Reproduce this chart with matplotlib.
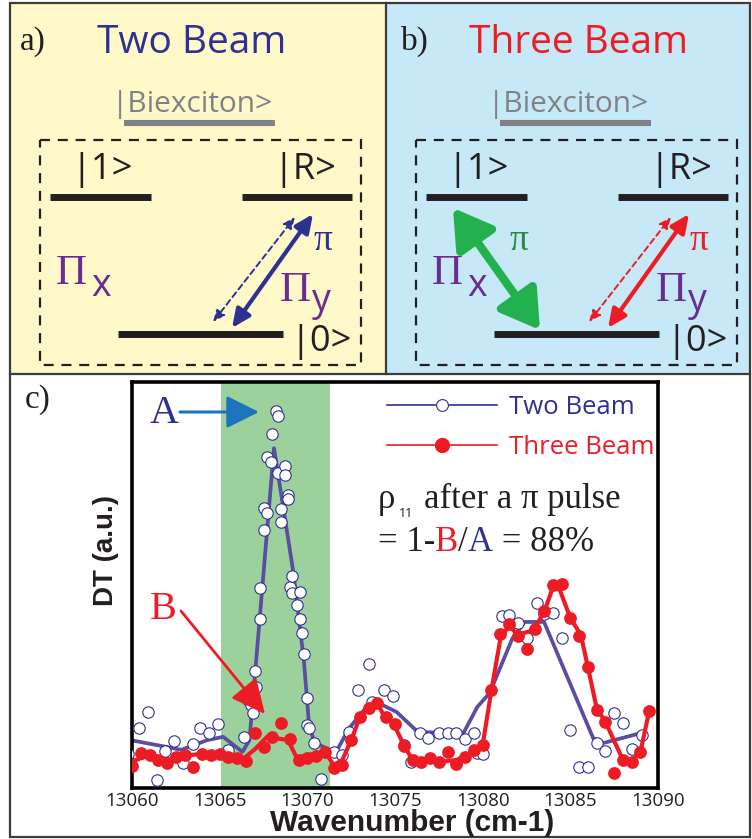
import matplotlib
matplotlib.use("Agg")
import matplotlib.pyplot as plt
from matplotlib.patches import Rectangle, FancyArrowPatch
from matplotlib.lines import Line2D

# ---------------- data ----------------
two_x = [13059.8, 13060.4, 13060.9, 13061.4, 13061.9, 13062.4, 13062.9, 13063.5, 13063.9, 13064.4,
         13064.9, 13065.5, 13066.4, 13066.6, 13066.8, 13066.9, 13067.0, 13067.1, 13067.3, 13067.3,
         13067.5, 13067.5, 13067.7, 13067.7, 13067.9, 13068.0, 13068.2, 13068.3, 13068.3, 13068.5,
         13068.5, 13068.7, 13068.7, 13068.9, 13068.9, 13069.0, 13069.1, 13069.1, 13069.6, 13069.4,
         13069.6, 13069.7, 13069.8, 13070.0, 13070.0, 13070.1, 13070.4, 13070.8, 13071.5, 13072.0,
         13072.4, 13072.9, 13073.5, 13073.7, 13074.4, 13074.9, 13075.5, 13075.9, 13076.4, 13076.9,
         13077.5, 13078.0, 13078.5, 13079.0, 13079.5, 13079.7, 13080.0, 13081.1, 13081.5, 13082.0,
         13082.5, 13083.1, 13083.5, 13084.0, 13084.5, 13085.0, 13085.5, 13086.0, 13086.5, 13087.0,
         13087.5, 13088.0, 13088.5, 13089.1]
two_y = [8.4, 14.8, 18.7, 2.0, 9.1, 11.6, 6.2, 10.8, 14.8, 13.5,
         15.8, 9.4, 12.6, 21.7, 20.4, 18.5, 28.8, 24.9, 41.6, 49.3,
         63.5, 69.0, 67.7, 81.5, 80.3, 87.2, 92.9, 91.6, 77.6, 68.7,
         65.5, 79.3, 77.1, 72.2, 71.2, 49.5, 52.2, 48.0, 48.3, 45.1,
         41.6, 38.2, 33.0, 22.2, 15.5, 14.8, 11.1, 2.2, 8.9, 8.1,
         13.8, 24.1, 30.5, 21.2, 24.1, 22.7, 10.6, 6.4, 13.5, 12.3,
         13.5, 13.5, 13.5, 12.1, 13.5, 8.6, 8.4, 42.4, 42.6, 40.6,
         36.9, 45.6, 42.9, 43.1, 36.9, 14.3, 5.2, 5.2, 11.1, 9.1,
         18.5, 16.0, 9.6, 13.1]

two_fit_x = [13059.9, 13062.0, 13062.8, 13064.3, 13065.2, 13066.3, 13066.7, 13068.1, 13069.2, 13069.8,
             13070.1, 13070.4, 13071.6, 13072.4, 13073.7, 13075.1, 13076.3, 13078.9, 13079.7, 13080.4,
             13081.7, 13082.4, 13083.5, 13086.3, 13086.9, 13089.0]
two_fit_y = [11.8, 10.1, 9.4, 11.8, 12.6, 8.9, 11.8, 83.7, 53.2, 31.5,
             15.5, 11.3, 8.6, 14.8, 21.7, 18.7, 13.8, 13.5, 20.0, 23.4,
             36.9, 40.9, 40.9, 12.3, 11.1, 13.5]

three_x = [13060.0, 13060.5, 13061.0, 13061.5, 13062.0, 13062.5, 13063.0, 13063.5, 13064.0, 13064.5,
           13065.0, 13065.5, 13066.0, 13066.5, 13067.0, 13067.5, 13068.0, 13068.5, 13069.0, 13069.5,
           13070.0, 13070.5, 13071.0, 13071.5, 13072.0, 13072.5, 13073.0, 13073.5, 13074.0, 13074.5,
           13075.0, 13075.5, 13076.0, 13076.5, 13077.0, 13077.5, 13078.0, 13078.5, 13079.0, 13079.5,
           13080.0, 13080.5, 13081.0, 13081.5, 13082.0, 13082.5, 13083.0, 13083.5, 13084.0, 13084.5,
           13085.0, 13085.5, 13086.0, 13086.5, 13087.0, 13087.5, 13088.0, 13088.5, 13089.0, 13089.5]
three_y = [5.4, 8.6, 8.1, 6.9, 6.2, 7.6, 8.1, 5.2, 8.4, 8.1,
           8.4, 7.6, 7.4, 6.7, 13.5, 10.1, 12.6, 16.0, 12.1, 6.9,
           7.4, 7.9, 8.9, 4.9, 5.7, 11.8, 17.5, 19.7, 20.9, 17.5,
           15.8, 10.3, 6.9, 6.4, 7.4, 6.4, 8.9, 5.9, 7.6, 9.4,
           10.6, 24.1, 37.9, 40.4, 37.4, 34.2, 39.2, 43.6, 50.0, 50.2,
           41.9, 37.4, 29.8, 19.2, 16.3, 3.7, 6.9, 6.4, 8.9, 19.0]

three_fit_x = [13059.9, 13061.0, 13062.0, 13063.0, 13063.9, 13065.5, 13066.4, 13067.0, 13067.7, 13068.9,
               13069.4, 13070.0, 13071.0, 13071.5, 13072.0, 13072.5, 13073.0, 13073.5, 13074.0, 13074.4,
               13074.9, 13075.5, 13076.0, 13077.5, 13078.5, 13079.5, 13080.0, 13080.5, 13081.0, 13081.5,
               13082.0, 13082.9, 13083.5, 13084.0, 13084.4, 13085.0, 13085.6, 13086.0, 13086.5, 13087.0,
               13088.0, 13088.5, 13089.0, 13089.5]
three_fit_y = [6.4, 8.1, 6.9, 7.9, 8.4, 7.6, 7.4, 9.5, 12.6, 11.8,
               7.4, 8.1, 8.9, 5.7, 6.9, 11.8, 17.5, 20.0, 20.9, 17.5,
               16.0, 10.6, 6.9, 6.4, 6.9, 8.9, 10.6, 24.1, 36.5, 40.1,
               37.7, 38.9, 43.3, 49.3, 48.8, 41.9, 37.7, 29.8, 19.7, 16.3,
               6.9, 6.7, 8.9, 19.0]

x_ticks = [13060, 13065, 13070, 13075, 13080, 13085, 13090]
band_lo, band_hi = 13065.1, 13071.3
series_labels = ["Two Beam", "Three Beam"]

# ---------------- styles ----------------
BLUE_T = "#2e3192"
RED = "#ed1c24"
PURPLE_L = "#5a4ea2"
PURPLE_T = "#6a2c91"
GREEN_A = "#22b14c"
GREEN_T = "#2a8a3c"
GRAY = "#808285"
DARK = "#231f20"
SANS = ["Open Sans", "DejaVu Sans"]
SERIF = ["Liberation Serif", "DejaVu Serif"]
BOLD = ["Liberation Sans", "DejaVu Sans"]

W, H = 752, 839
fig = plt.figure(figsize=(W / 100, H / 100), dpi=100)
fig.patch.set_facecolor("white")
renderer = fig.canvas.get_renderer()

# background overlay (pixel coordinates, y down)
axb = fig.add_axes([0, 0, 1, 1], label="bg")
axb.set_xlim(0, W)
axb.set_ylim(H, 0)
axb.axis("off")

# panel backgrounds and frames
axb.add_patch(Rectangle((10, 3), 376, 371, facecolor="#fff8c9", edgecolor="none"))
axb.add_patch(Rectangle((386, 3), 364, 371, facecolor="#c6e8f7", edgecolor="none"))
axb.add_patch(Rectangle((10, 3), 740, 834, facecolor="none", edgecolor="#3c3c3c", lw=1.6))
axb.plot([10, 750], [374, 374], color="#3c3c3c", lw=1.6)
axb.plot([386, 386], [3, 374], color="#3c3c3c", lw=1.6)


def level_diagram(ox, title, title_color, tag, tag_x, title_x, arrows_color, pi_color, three):
    # tag and title
    axb.text(tag_x, 50, tag, family=SERIF, fontsize=24, color=DARK, va="baseline")
    axb.text(title_x, 53, title, family=SANS, fontsize=28, color=title_color, va="baseline")
    # biexciton
    axb.text(ox + 112, 112, "|Biexciton>", family=SANS, fontsize=21.5, color=GRAY, va="baseline")
    axb.plot([ox + 124, ox + 275], [123, 123], color=GRAY, lw=4.4, solid_capstyle="butt")
    # dashed box
    axb.add_patch(Rectangle((ox + 40, 140), 321, 225, facecolor="none", edgecolor=DARK,
                            lw=1.6, linestyle=(0, (4.5, 3.5))))
    # levels
    axb.plot([ox + 50, ox + 151], [197, 197], color=DARK, lw=5, solid_capstyle="butt")
    axb.plot([ox + 242, ox + 352], [197, 197], color=DARK, lw=5, solid_capstyle="butt")
    axb.plot([ox + 118, ox + 283], [334, 334], color=DARK, lw=5, solid_capstyle="butt")
    axb.text(ox + 71, 179, "|1>", family=SANS, fontsize=26, color=DARK, va="baseline")
    axb.text(ox + 273, 179, "|R>", family=SANS, fontsize=26, color=DARK, va="baseline")
    axb.text(ox + 290, 351, "|0>", family=SANS, fontsize=26, color=DARK, va="baseline")
    # Pi_x and Pi_y
    axb.text(ox + 56, 284, "\u03a0", family=SERIF, fontsize=31, color=PURPLE_T, va="baseline")
    axb.text(ox + 91, 296, "x", family=SANS, fontsize=27, color=PURPLE_T, va="baseline")
    axb.text(ox + 280, 301, "\u03a0", family=SERIF, fontsize=31, color=PURPLE_T, va="baseline")
    axb.text(ox + 312, 311, "y", family=SANS, fontsize=27, color=PURPLE_T, va="baseline")
    # pi labels
    axb.text(ox + 314, 250, "\u03c0", family=SERIF, fontsize=27, color=pi_color, va="baseline")
    # right transition arrows
    axb.add_patch(FancyArrowPatch((ox + 232, 328), (ox + 313, 214),
                                  arrowstyle="<|-|>,head_length=11,head_width=5",
                                  color=arrows_color, lw=3.0, shrinkA=0, shrinkB=0))
    axb.add_patch(FancyArrowPatch((ox + 213, 322), (ox + 295, 217),
                                  arrowstyle="<|-|>,head_length=7,head_width=3",
                                  color=arrows_color, lw=1.4, linestyle=(0, (3, 2)),
                                  shrinkA=0, shrinkB=0))
    if three:
        axb.add_patch(FancyArrowPatch((ox + 77, 208), (ox + 164, 330),
                                      arrowstyle="<|-|>,head_length=23,head_width=14",
                                      color=GREEN_A, lw=6, shrinkA=0, shrinkB=0))
        axb.text(ox + 133, 250, "\u03c0", family=SERIF, fontsize=27, color=GREEN_T, va="baseline")


level_diagram(0, "Two Beam", BLUE_T, "a)", 20, 97, BLUE_T, BLUE_T, False)
level_diagram(376, "Three Beam", RED, "b)", 401, 469, RED, RED, True)

axb.text(25, 408, "c)", family=SERIF, fontsize=24, color=DARK, va="baseline")

# ---------------- data axes ----------------
L, R, T, B = 132, 658, 382, 788
ax = fig.add_axes([L / W, 1 - B / H, (R - L) / W, (B - T) / H], label="data")
ax.set_xlim(13060, 13090)
ax.set_ylim(0, 100)
ax.axvspan(band_lo, band_hi, color="#9dd19c", lw=0, zorder=0)
ax.plot(two_fit_x, two_fit_y, color=PURPLE_L, lw=2.7, zorder=2, solid_joinstyle="round")
ax.plot(two_x, two_y, linestyle="none", marker="o", ms=8.2, mfc="white", mec=BLUE_T, mew=0.8, zorder=3)
ax.plot(three_fit_x, three_fit_y, color=RED, lw=3.0, zorder=4, solid_joinstyle="round")
ax.plot(three_x, three_y, linestyle="none", marker="o", ms=9.2, mfc=RED, mec=RED, mew=0, zorder=5)

ax.set_xticks(x_ticks)
ax.set_xticklabels([str(v) for v in x_ticks], family=SANS, fontsize=13.5, color=DARK)
ax.tick_params(axis="x", length=0, pad=3)
ax.set_yticks([])
for s in ax.spines.values():
    s.set_linewidth(2.6)
    s.set_color("black")

ax.set_xlabel("Wavenumber (cm-1)", family=BOLD, fontweight="bold", fontsize=21.5, color=DARK, va="center")
ax.xaxis.set_label_coords((412 - L) / (R - L), (B - 823) / (B - T))
ax.set_ylabel("DT (a.u.)", family=BOLD, fontweight="bold", fontsize=20, color=DARK, va="center")
ax.yaxis.set_label_coords((106 - L) / (R - L), (B - 550) / (B - T))

handles = [Line2D([], [], color=BLUE_T, lw=1.2, marker="o", ms=8.5, mfc="white", mec=BLUE_T, mew=0.8),
           Line2D([], [], color=RED, lw=1.2, marker="o", ms=10, mfc=RED, mec=RED)]
leg = ax.legend(handles, series_labels, loc="upper left", bbox_to_anchor=(387 / W, 1 - 395 / H),
                bbox_transform=fig.transFigure, frameon=False, handlelength=4.3, handletextpad=0.45,
                labelspacing=0.6, borderpad=0, borderaxespad=0,
                prop={"family": SANS, "size": 18.5}, labelcolor=[BLUE_T, RED])

# ---------------- top annotations ----------------
axt = fig.add_axes([0, 0, 1, 1], label="top", zorder=10)
axt.set_xlim(0, W)
axt.set_ylim(H, 0)
axt.axis("off")
axt.patch.set_alpha(0)

axt.text(150, 423, "A", family=SERIF, fontsize=29, color=BLUE_T, va="baseline")
axt.add_patch(FancyArrowPatch((180, 412), (259, 412), arrowstyle="-|>,head_length=20,head_width=10",
                              color="#1c75bc", lw=2.2, shrinkA=0, shrinkB=0))
axt.text(150, 619, "B", family=SERIF, fontsize=29, color=RED, va="baseline")
axt.add_patch(FancyArrowPatch((181, 611), (265, 714), arrowstyle="-|>,head_length=21,head_width=10",
                              color=RED, lw=2.0, shrinkA=0, shrinkB=0))

# rho_11 after a pi pulse
axt.text(378, 508, "\u03c1", family=SERIF, fontsize=25, color=DARK, va="baseline")
axt.text(399, 517, "11", family=SANS, fontsize=9, color=DARK, va="baseline")
axt.text(424, 508, "after a \u03c0 pulse", family=SERIF, fontsize=25, color=DARK, va="baseline")

xpos = 378
for s, c in [("= 1-", DARK), ("B", RED), ("/", DARK), ("A", BLUE_T), (" = 88%", DARK)]:
    t = axt.text(xpos, 551, s, family=SERIF, fontsize=25, color=c, va="baseline")
    xpos += t.get_window_extent(renderer=renderer).width

fig.savefig("out.png", dpi=100)
